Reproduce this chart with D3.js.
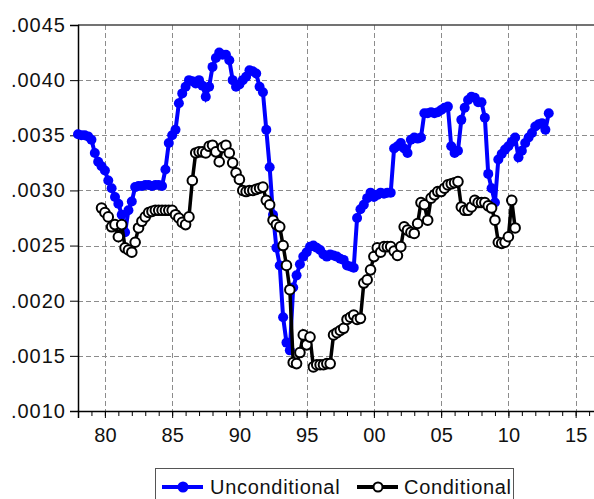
<!DOCTYPE html>
<html>
<head>
<meta charset="utf-8">
<script src="https://cdn.jsdelivr.net/npm/d3@7"></script>
<style>
  body { margin: 0; background: #fff; }
  svg { display: block; font-family: Arial, "Liberation Sans", sans-serif; }
</style>
</head>
<body>
<div id="chart"></div>
<script>
// quarterly observations, first one at the given year
const uncondStart = 1978.0;
const unconditional = [
  .00351, .00350, .00350, .00349, // 1978
  .00346, .00334, .00326, .00322, // 1979
  .00318, .00309, .00302, .00294, // 1980
  .00288, .00278, .00262, .00282, // 1981
  .00290, .00303, .00304, .00304, // 1982
  .00305, .00305, .00304, .00305, // 1983
  .00305, .00304, .00319, .00343, // 1984
  .00350, .00355, .00379, .00388, // 1985
  .00394, .00400, .00399, .00397, // 1986
  .00400, .00395, .00385, .00394, // 1987
  .00412, .00420, .00425, .00423, // 1988
  .00423, .00418, .00400, .00394, // 1989
  .00396, .00400, .00403, .00409, // 1990
  .00408, .00406, .00394, .00389, // 1991
  .00355, .00321, .00278, .00248, // 1992
  .00232, .00185, .00162, .00155, // 1993
  .00212, .00223, .00233, .00240, // 1994
  .00244, .00249, .00250, .00248, // 1995
  .00246, .00242, .00240, .00242, // 1996
  .00241, .00240, .00238, .00237, // 1997
  .00232, .00231, .00230, .00275, // 1998
  .00283, .00287, .00293, .00298, // 1999
  .00294, .00296, .00298, .00297, // 2000
  .00298, .00298, .00338, .00340, // 2001
  .00343, .00338, .00334, .00346, // 2002
  .00348, .00347, .00348, .00370, // 2003
  .00370, .00371, .00370, .00371, // 2004
  .00373, .00375, .00376, .00340, // 2005
  .00334, .00336, .00364, .00375, // 2006
  .00382, .00385, .00384, .00380, // 2007
  .00380, .00366, .00315, .00302, // 2008
  .00289, .00328, .00333, .00337, // 2009
  .00340, .00344, .00348, .00330, // 2010
  .00336, .00343, .00348, .00352, // 2011
  .00358, .00360, .00361, .00355, // 2012
  .00370                          // 2013
];

const condStart = 1979.75;
const conditional = [
  .00284,                         // 1979
  .00280, .00276, .00267, .00269, // 1980
  .00258, .00269, .00248, .00246, // 1981
  .00244, .00253, .00266, .00272, // 1982
  .00276, .00280, .00281, .00282, // 1983
  .00282, .00282, .00282, .00282, // 1984
  .00282, .00278, .00275, .00271, // 1985
  .00269, .00276, .00309, .00334, // 1986
  .00335, .00335, .00334, .00340, // 1987
  .00341, .00335, .00326, .00339, // 1988
  .00341, .00334, .00325, .00316, // 1989
  .00310, .00300, .00299, .00300, // 1990
  .00300, .00301, .00302, .00303, // 1991
  .00291, .00287, .00273, .00269, // 1992
  .00267, .00250, .00232, .00210, // 1993
  .00144, .00143, .00153, .00169, // 1994
  .00160, .00167, .00140, .00142, // 1995
  .00142, .00142, .00143, .00143, // 1996
  .00169, .00171, .00173, .00175, // 1997
  .00183, .00185, .00187, .00183, // 1998
  .00184, .00216, .00219, .00228, // 1999
  .00240, .00248, .00244, .00249, // 2000
  .00249, .00249, .00245, .00241, // 2001
  .00249, .00267, .00264, .00262, // 2002
  .00261, .00270, .00289, .00287, // 2003
  .00273, .00293, .00296, .00299, // 2004
  .00299, .00302, .00305, .00306, // 2005
  .00307, .00308, .00285, .00282, // 2006
  .00282, .00285, .00291, .00289, // 2007
  .00289, .00289, .00286, .00284, // 2008
  .00273, .00253, .00252, .00253, // 2009
  .00258, .00291, .00266          // 2010
];

const yTicks = [.0010, .0015, .0020, .0025, .0030, .0035, .0040, .0045];
const xTicks = [1980, 1985, 1990, 1995, 2000, 2005, 2010, 2015];
const seriesNames = ["Unconditional", "Conditional"];

const width = 594, height = 499;
const plot = { left: 78, top: 25, right: 616, bottom: 411 };

const svg = d3.select("#chart").append("svg")
  .attr("width", width)
  .attr("height", height);

const x = d3.scaleLinear().domain([1978, 2018]).range([plot.left, plot.right]);
const y = d3.scaleLinear().domain([.0010, .0045]).range([plot.bottom, plot.top]);

const toPoints = (vals, start) => vals.map((v, i) => ({ t: start + i * 0.25, v }));
const uncondPts = toPoints(unconditional, uncondStart);
const condPts = toPoints(conditional, condStart);

// grid
const grid = svg.append("g")
  .attr("stroke", "#8c8c8c")
  .attr("stroke-width", 1)
  .attr("stroke-dasharray", "5,3");

grid.selectAll(".vg").data(xTicks).join("line")
  .attr("x1", d => Math.round(x(d)) + 0.5).attr("x2", d => Math.round(x(d)) + 0.5)
  .attr("y1", plot.top).attr("y2", plot.bottom);

grid.selectAll(".hg").data(yTicks.slice(1, -1)).join("line")
  .attr("y1", d => Math.round(y(d)) + 0.5).attr("y2", d => Math.round(y(d)) + 0.5)
  .attr("x1", plot.left).attr("x2", width);

// top frame
svg.append("line")
  .attr("x1", plot.left).attr("x2", width)
  .attr("y1", plot.top).attr("y2", plot.top)
  .attr("stroke", "#444").attr("stroke-width", 1.5);

// axes
const yAxis = d3.axisLeft(y)
  .tickValues(yTicks)
  .tickSize(8)
  .tickPadding(4)
  .tickFormat(d => d3.format(".4f")(d).replace(/^0/, ""));

svg.append("g")
  .attr("transform", `translate(${plot.left},0)`)
  .call(yAxis)
  .call(g => g.select(".domain").attr("stroke", "#000").attr("stroke-width", 1.5))
  .call(g => g.selectAll("text").attr("font-size", 20).attr("fill", "#111")
    .attr("font-family", "Arial, 'Liberation Sans', sans-serif").style("letter-spacing", "1px"));

const xMinor = d3.axisBottom(x)
  .tickValues(d3.range(1978, 2018, 1))
  .tickSize(5)
  .tickFormat("");

svg.append("g")
  .attr("transform", `translate(0,${plot.bottom})`)
  .call(xMinor)
  .call(g => g.select(".domain").remove());

const xAxis = d3.axisBottom(x)
  .tickValues(xTicks)
  .tickSize(7)
  .tickPadding(10)
  .tickFormat(d => String(d % 100).padStart(2, "0"));

svg.append("g")
  .attr("transform", `translate(0,${plot.bottom})`)
  .call(xAxis)
  .call(g => g.select(".domain").attr("stroke", "#000").attr("stroke-width", 1.5))
  .call(g => g.selectAll("text").attr("font-size", 20).attr("fill", "#111")
    .attr("font-family", "Arial, 'Liberation Sans', sans-serif"));

// series
const line = d3.line().x(d => x(d.t)).y(d => y(d.v));

svg.append("path")
  .datum(uncondPts)
  .attr("fill", "none")
  .attr("stroke", "#0000ff")
  .attr("stroke-width", 4)
  .attr("d", line);

svg.append("g").selectAll("circle").data(uncondPts).join("circle")
  .attr("cx", d => x(d.t)).attr("cy", d => y(d.v))
  .attr("r", 5)
  .attr("fill", "#0000ff");

svg.append("path")
  .datum(condPts)
  .attr("fill", "none")
  .attr("stroke", "#000")
  .attr("stroke-width", 3.5)
  .attr("d", line);

svg.append("g").selectAll("circle").data(condPts).join("circle")
  .attr("cx", d => x(d.t)).attr("cy", d => y(d.v))
  .attr("r", 4.8)
  .attr("fill", "#fff")
  .attr("stroke", "#000")
  .attr("stroke-width", 2);

// legend
const legend = svg.append("g").attr("transform", "translate(155,468)");

legend.append("rect")
  .attr("x", 0.5).attr("y", 0.5)
  .attr("width", 358).attr("height", 40)
  .attr("fill", "#fff")
  .attr("stroke", "#555")
  .attr("stroke-width", 1);

const legendItems = [
  { name: seriesNames[0], x0: 7, color: "#0000ff", fill: "#0000ff", tx: 55 },
  { name: seriesNames[1], x0: 202, color: "#000", fill: "#fff", tx: 249 }
];

legendItems.forEach(it => {
  legend.append("line")
    .attr("x1", it.x0).attr("x2", it.x0 + 41)
    .attr("y1", 19).attr("y2", 19)
    .attr("stroke", it.color).attr("stroke-width", 4);
  legend.append("circle")
    .attr("cx", it.x0 + 21).attr("cy", 19).attr("r", 4.5)
    .attr("fill", it.fill)
    .attr("stroke", it.color).attr("stroke-width", 2);
  legend.append("text")
    .attr("x", it.tx).attr("y", 26)
    .attr("font-size", 20)
    .attr("fill", "#111")
    .style("letter-spacing", "0.7px")
    .text(it.name);
});
</script>
</body>
</html>
